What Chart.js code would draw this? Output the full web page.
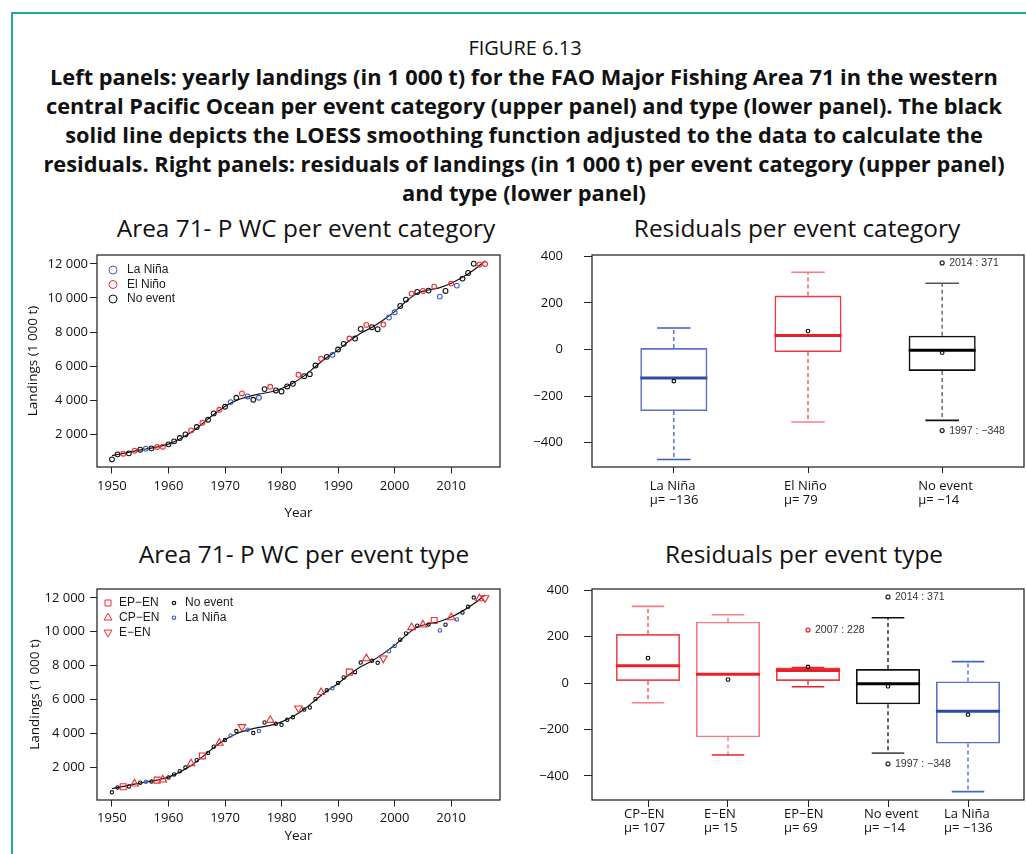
<!DOCTYPE html>
<html>
<head>
<meta charset="utf-8">
<script src="https://cdn.jsdelivr.net/npm/chart.js@4.4.1/dist/chart.umd.min.js"></script>
<style>
  html, body { margin: 0; padding: 0; background: #fff; }
  body { width: 1026px; height: 854px; position: relative; overflow: hidden; font-family: 'Open Sans', sans-serif; color: #111; }
  .frame { position: absolute; left: 11px; top: 12px; width: 1100px; height: 900px; border-left: 2px solid #1fa99d; border-top: 2px solid #1fa99d; }
  .t { position: absolute; transform: translate(-50%, -50%); white-space: nowrap; text-align: center; }
  .fig { left: 525px; top: 47px; font-size: 20px; }
  .cap { left: 524px; top: 134px; font-size: 21.8px; font-weight: 700; line-height: 29px; }
  .pt { font-size: 24.4px; }
  .panel { position: absolute; }
</style>
</head>
<body>
<div class="frame"></div>
<div class="t fig">FIGURE 6.13</div>
<div class="t cap">Left panels: yearly landings (in 1 000 t) for the FAO Major Fishing Area 71 in the western<br>central Pacific Ocean per event category (upper panel) and type (lower panel). The black<br>solid line depicts the LOESS smoothing function adjusted to the data to calculate the<br>residuals. Right panels: residuals of landings (in 1 000 t) per event category (upper panel)<br>and type (lower panel)</div>
<div class="t pt" style="left:306px;top:227px">Area 71- P WC per event category</div>
<div class="t pt" style="left:797px;top:227px">Residuals per event category</div>
<div class="t pt" style="left:304px;top:553px">Area 71- P WC per event type</div>
<div class="t pt" style="left:804px;top:553px">Residuals per event type</div>

<div class="panel" style="left:18px;top:245px"><canvas id="landCat" width="490" height="290"></canvas></div>
<div class="panel" style="left:520px;top:245px"><canvas id="resCat" width="506" height="290"></canvas></div>
<div class="panel" style="left:18px;top:579px"><canvas id="landType" width="490" height="275"></canvas></div>
<div class="panel" style="left:520px;top:579px"><canvas id="resType" width="506" height="275"></canvas></div>

<script>
// ---- landings per year (1 000 t) ----
const YEARS = [
  1950, 1951, 1952, 1953, 1954, 1955, 1956, 1957, 1958, 1959,
  1960, 1961, 1962, 1963, 1964, 1965, 1966, 1967, 1968, 1969,
  1970, 1971, 1972, 1973, 1974, 1975, 1976, 1977, 1978, 1979,
  1980, 1981, 1982, 1983, 1984, 1985, 1986, 1987, 1988, 1989,
  1990, 1991, 1992, 1993, 1994, 1995, 1996, 1997, 1998, 1999,
  2000, 2001, 2002, 2003, 2004, 2005, 2006, 2007, 2008, 2009,
  2010, 2011, 2012, 2013, 2014, 2015, 2016
];
const LANDINGS = [
  513, 806, 845, 865, 1021, 1080, 1140, 1160, 1237, 1256,
  1393, 1569, 1765, 1980, 2215, 2411, 2665, 2841, 3213, 3429,
  3605, 3879, 4133, 4387, 4211, 4016, 4133, 4642, 4779, 4564,
  4505, 4798, 4955, 5483, 5405, 5523, 6031, 6423, 6540, 6658,
  6971, 7303, 7616, 7616, 8184, 8419, 8282, 8164, 8438, 8849,
  9162, 9534, 9906, 10258, 10356, 10415, 10434, 10669, 10082, 10415,
  10845, 10728, 11139, 11472, 12020, 11961, 12000
];
// N = no event, L = La Niña, EP / CP / E = El Niño types
const EVENT_TYPE = [
  'N', 'N', 'EP', 'N', 'CP', 'N', 'L', 'N', 'EP', 'CP',
  'N', 'N', 'N', 'N', 'CP', 'N', 'EP', 'N', 'N', 'CP',
  'N', 'L', 'N', 'E', 'L', 'N', 'L', 'N', 'CP', 'N',
  'N', 'N', 'N', 'E', 'N', 'N', 'N', 'CP', 'N', 'L',
  'N', 'N', 'EP', 'N', 'N', 'CP', 'N', 'N', 'E', 'L',
  'L', 'N', 'N', 'CP', 'N', 'CP', 'N', 'EP', 'L', 'N',
  'CP', 'L', 'N', 'N', 'N', 'CP', 'E'
];
// LOESS curve, read every two years
const LOESS_YEARS = [
  1950, 1952, 1954, 1956, 1958, 1960, 1962, 1964, 1966, 1968, 1970, 1972,
  1974, 1976, 1978, 1980, 1982, 1984, 1986, 1988, 1990, 1992, 1994, 1996,
  1998, 2000, 2002, 2004, 2006, 2008, 2010, 2012, 2014, 2016
];
const LOESS_VALUES = [
  730, 865, 1000, 1120, 1240, 1410, 1710, 2100, 2610, 3150, 3620, 3980,
  4190, 4350, 4470, 4680, 4990, 5420, 5970, 6500, 6950, 7480, 7930, 8280,
  8710, 9200, 9790, 10280, 10470, 10610, 10870, 11220, 11650, 12180
];
const YEAR_TICKS = [1950, 1960, 1970, 1980, 1990, 2000, 2010];
const LAND_TICKS = [2000, 4000, 6000, 8000, 10000, 12000];

// ---- residual box plots per event category ----
const CAT_NAMES = ['La Niña', 'El Niño', 'No event'];
const CAT_MEAN  = [-136, 79, -14];
const CAT_LO    = [-472, -311, -304];
const CAT_Q1    = [-264, -11, -92];
const CAT_MED   = [-122, 60, -3];
const CAT_Q3    = [6, 231, 59];
const CAT_HI    = [92, 331, 284];
const CAT_OUT_X    = [3, 3];
const CAT_OUT_Y    = [371, -348];
const CAT_OUT_YEAR = [2014, 1997];

// ---- residual box plots per event type ----
const TYPE_NAMES = ['CP−EN', 'E−EN', 'EP−EN', 'No event', 'La Niña'];
const TYPE_MEAN  = [107, 15, 69, -14, -136];
const TYPE_LO    = [-85, -310, -16, -302, -468];
const TYPE_Q1    = [9, -234, 9, -92, -261];
const TYPE_MED   = [74, 38, 54, -3, -122];
const TYPE_Q3    = [211, 264, 67, 60, 7];
const TYPE_HI    = [330, 294, 67, 281, 92];
const TYPE_OUT_X    = [3, 4, 4];
const TYPE_OUT_Y    = [228, 371, -348];
const TYPE_OUT_YEAR = [2007, 2014, 1997];

const RES_TICKS = [-400, -200, 0, 200, 400];

// ---- styling ----
const FONT = "'Open Sans', sans-serif";
const SMALL_FONT = "'Liberation Sans', Arial, sans-serif";
const INK = '#111';
const BLUE = '#3f5cbf';
const RED = '#ef2b33';
const NONE = 'rgba(0,0,0,0)';

const EL_NINO = ['EP', 'CP', 'E'];

const fmtThousands = v => String(v).replace(/\B(?=(\d{3})+(?!\d))/g, ' ');
const fmtMinus = v => (v < 0 ? '\u2212' + Math.abs(v) : String(v));

function pointsWhere(test) {
  const out = [];
  YEARS.forEach((yr, i) => { if (test(EVENT_TYPE[i])) out.push({ x: yr, y: LANDINGS[i] }); });
  return out;
}

// fixed axis sizes so the plot boxes land where R put them
function fixHeight(h) {
  return s => { s.height = h; s.paddingLeft = 0; s.paddingRight = 0; };
}
function fixWidth(w) {
  return s => { s.width = w; s.paddingTop = 0; s.paddingBottom = 0; };
}

const frameBox = {
  id: 'frameBox',
  afterDatasetsDraw(chart) {
    const { ctx, chartArea: a } = chart;
    ctx.save();
    ctx.strokeStyle = '#2a2a2a';
    ctx.lineWidth = 1.3;
    ctx.strokeRect(a.left, a.top, a.right - a.left, a.bottom - a.top);
    ctx.restore();
  }
};

// legend drawn inside the plot, R style (no box)
const insetLegend = {
  id: 'insetLegend',
  afterDraw(chart, args, opts) {
    if (!opts.items) return;
    const { ctx, chartArea: a } = chart;
    opts.items.forEach(it => {
      const x = a.left + opts.x + (it.col || 0) * opts.colWidth;
      const y = a.top + opts.y + it.row * opts.rowHeight;
      ctx.save();
      ctx.strokeStyle = it.color;
      ctx.fillStyle = NONE;
      ctx.lineWidth = it.lineWidth;
      Chart.helpers.drawPoint(ctx, { pointStyle: it.pointStyle, rotation: it.rotation || 0, radius: it.radius, borderWidth: it.lineWidth }, x, y);
      ctx.fillStyle = '#1a1a1a';
      ctx.font = opts.font;
      ctx.textAlign = 'left';
      ctx.textBaseline = 'middle';
      ctx.fillText(it.text, x + opts.textGap, y);
      ctx.restore();
    });
  }
};

const outlierLabels = {
  id: 'outlierLabels',
  afterDatasetsDraw(chart, args, opts) {
    if (!opts.points) return;
    const { ctx } = chart;
    ctx.save();
    ctx.font = opts.font;
    ctx.fillStyle = opts.color;
    ctx.textAlign = 'left';
    ctx.textBaseline = 'middle';
    opts.points.forEach(p => {
      ctx.fillText(p.text, chart.scales.x.getPixelForValue(p.x) + opts.dx, chart.scales.y.getPixelForValue(p.y));
    });
    ctx.restore();
  }
};

function tickGrid(len) {
  return { display: true, drawOnChartArea: false, drawTicks: true, tickLength: len, color: '#222', lineWidth: 1 };
}

function landingsChart(id, datasets, legend, axis) {
  return new Chart(document.getElementById(id), {
    type: 'scatter',
    data: { datasets },
    options: {
      responsive: false,
      animation: false,
      devicePixelRatio: 1,
      events: [],
      layout: { autoPadding: false, padding: { top: 10, right: 8, left: 0, bottom: 0 } },
      plugins: {
        legend: { display: false },
        tooltip: { enabled: false },
        insetLegend: legend,
      },
      scales: {
        x: {
          type: 'linear', min: 1947.36, max: 2018.64,
          afterBuildTicks: s => { s.ticks = YEAR_TICKS.map(v => ({ value: v })); },
          afterFit: fixHeight(axis.xHeight),
          ticks: { color: INK, font: { family: FONT, size: 13 }, padding: axis.xPad, maxRotation: 0, callback: v => String(v) },
          grid: tickGrid(6.5),
          border: { display: false },
          title: { display: true, text: 'Year', color: INK, font: { family: FONT, size: 13.5 }, padding: { top: 0, bottom: axis.xTitlePad } },
        },
        y: {
          type: 'linear', min: 62, max: 12528,
          afterBuildTicks: s => { s.ticks = LAND_TICKS.map(v => ({ value: v })); },
          afterFit: fixWidth(79),
          ticks: { color: INK, font: { family: FONT, size: 13 }, padding: axis.yPad, callback: v => fmtThousands(v) },
          grid: tickGrid(7),
          border: { display: false },
          title: { display: true, text: 'Landings (1 000 t)', color: INK, font: { family: FONT, size: 13.5 }, padding: { top: axis.yTitlePad, bottom: 0 } },
        },
      },
    },
    plugins: [frameBox, insetLegend],
  });
}

const loessLine = {
  label: 'LOESS',
  type: 'line',
  data: LOESS_YEARS.map((yr, i) => ({ x: yr, y: LOESS_VALUES[i] })),
  showLine: true,
  borderColor: '#111',
  borderWidth: 1.2,
  pointRadius: 0,
  cubicInterpolationMode: 'monotone',
};

function ring(label, data, color, radius, style, rotation) {
  return {
    label, data,
    showLine: false,
    pointStyle: style || 'circle',
    rotation: rotation || 0,
    pointRadius: radius,
    pointBorderColor: color,
    pointBackgroundColor: NONE,
    pointBorderWidth: 1.1,
  };
}

// ---- upper left: landings per event category ----
landingsChart('landCat', [
  ring('El Niño', pointsWhere(t => EL_NINO.includes(t)), RED, 2.4),
  ring('La Niña', pointsWhere(t => t === 'L'), BLUE, 2.4),
  ring('No event', pointsWhere(t => t === 'N'), INK, 2.4),
  loessLine,
], {
  x: 16, y: 15, rowHeight: 14.5, colWidth: 0, textGap: 14, font: `12px ${SMALL_FONT}`,
  items: [
    { row: 0, text: CAT_NAMES[0], color: BLUE, pointStyle: 'circle', radius: 4, lineWidth: 1 },
    { row: 1, text: CAT_NAMES[1], color: RED, pointStyle: 'circle', radius: 4, lineWidth: 1 },
    { row: 2, text: CAT_NAMES[2], color: INK, pointStyle: 'circle', radius: 4, lineWidth: 1 },
  ],
}, { xHeight: 68, xPad: 5, xTitlePad: 14, yPad: 2, yTitlePad: 7 });

// ---- lower left: landings per event type ----
landingsChart('landType', [
  ring('EP−EN', pointsWhere(t => t === 'EP'), RED, 4.2, 'rect'),
  ring('CP−EN', pointsWhere(t => t === 'CP'), RED, 4.4, 'triangle'),
  ring('E−EN', pointsWhere(t => t === 'E'), RED, 4.4, 'triangle', 180),
  ring('La Niña', pointsWhere(t => t === 'L'), BLUE, 1.7),
  ring('No event', pointsWhere(t => t === 'N'), INK, 1.7),
  loessLine,
], {
  x: 11, y: 14, rowHeight: 14.7, colWidth: 66, textGap: 11, font: `12px ${SMALL_FONT}`,
  items: [
    { row: 0, text: TYPE_NAMES[2], color: RED, pointStyle: 'rect', radius: 4.2, lineWidth: 1 },
    { row: 1, text: TYPE_NAMES[0], color: RED, pointStyle: 'triangle', radius: 4.6, lineWidth: 1 },
    { row: 2, text: TYPE_NAMES[1], color: RED, pointStyle: 'triangle', rotation: 180, radius: 4.6, lineWidth: 1 },
    { row: 0, col: 1, text: TYPE_NAMES[3], color: INK, pointStyle: 'circle', radius: 1.7, lineWidth: 1.2 },
    { row: 1, col: 1, text: TYPE_NAMES[4], color: BLUE, pointStyle: 'circle', radius: 1.7, lineWidth: 1.2 },
  ],
}, { xHeight: 54, xPad: 4, xTitlePad: 9.5, yPad: 5, yTitlePad: 9 });

// ---- box plots ----
function boxChart(id, b, look) {
  const idx = b.names.map((_, i) => i + 1);
  const datasets = [];

  datasets.push({
    label: 'mean', type: 'scatter', data: idx.map((x, i) => ({ x, y: b.mean[i] })),
    pointRadius: 1.8, pointBorderColor: '#111', pointBackgroundColor: NONE, pointBorderWidth: 1.2,
  });
  datasets.push({
    label: 'median', type: 'scatter', data: idx.map((x, i) => ({ x, y: b.med[i] })),
    pointStyle: 'line', pointRadius: look.boxHalf, pointBorderWidth: 3, pointBorderColor: look.medColor,
  });
  datasets.push({
    label: 'outliers', type: 'scatter', data: b.outX.map((x, i) => ({ x, y: b.outY[i] })),
    pointRadius: 2, pointBorderColor: look.outColor, pointBackgroundColor: NONE, pointBorderWidth: 1.2,
  });
  const caps = [];
  idx.forEach((x, i) => { caps.push({ x, y: b.hi[i] }); caps.push({ x, y: b.lo[i] }); });
  datasets.push({
    label: 'caps', type: 'scatter', data: caps,
    pointStyle: 'line', pointRadius: look.capHalf, pointBorderWidth: 1.6, pointBorderColor: look.capColor,
  });
  idx.forEach((x, i) => {
    datasets.push({
      label: 'whisker', type: 'scatter', showLine: true, spanGaps: false,
      data: [{ x, y: b.q3[i] }, { x, y: b.hi[i] }, { x, y: null }, { x, y: b.q1[i] }, { x, y: b.lo[i] }],
      borderColor: look.whiskColor[i], borderWidth: 1.3, borderDash: [4, 3], pointRadius: 0,
    });
  });
  datasets.push({
    label: 'box', type: 'bar', data: idx.map((x, i) => ({ x, y: [b.q1[i], b.q3[i]] })),
    backgroundColor: NONE, borderColor: look.boxColor, borderWidth: 1.6, borderSkipped: false,
    barPercentage: look.barPct, categoryPercentage: 1,
  });

  return new Chart(document.getElementById(id), {
    type: 'scatter',
    data: { datasets },
    options: {
      responsive: false,
      animation: false,
      devicePixelRatio: 1,
      events: [],
      layout: { autoPadding: false, padding: { top: 10, right: 2, left: 0, bottom: 0 } },
      plugins: {
        legend: { display: false },
        tooltip: { enabled: false },
        outlierLabels: {
          font: `10.5px ${SMALL_FONT}`, color: '#333', dx: 7,
          points: b.outX.map((x, i) => ({ x, y: b.outY[i], text: b.outYear[i] + ' : ' + fmtMinus(b.outY[i]) })),
        },
      },
      scales: {
        x: {
          type: 'linear', min: look.xMin, max: look.xMax, offset: false,
          afterBuildTicks: s => { s.ticks = idx.map(v => ({ value: v })); },
          afterFit: fixHeight(look.xHeight),
          ticks: {
            color: INK, font: { family: FONT, size: 13, lineHeight: 1.08 }, padding: look.xPad,
            align: 'start', labelOffset: -24, maxRotation: 0,
            callback: v => [b.names[v - 1], 'μ= ' + fmtMinus(b.mean[v - 1])],
          },
          grid: { ...tickGrid(look.tickLen), offset: false },
          border: { display: false },
        },
        y: {
          type: 'linear', min: -504, max: 405,
          afterBuildTicks: s => { s.ticks = RES_TICKS.map(v => ({ value: v })); },
          afterFit: fixWidth(72),
          ticks: { color: INK, font: { family: FONT, size: 13 }, padding: look.yPad, callback: v => fmtMinus(v) },
          grid: tickGrid(8),
          border: { display: false },
        },
      },
    },
    plugins: [frameBox, outlierLabels],
  });
}

boxChart('resCat', {
  names: CAT_NAMES, mean: CAT_MEAN, lo: CAT_LO, q1: CAT_Q1, med: CAT_MED, q3: CAT_Q3, hi: CAT_HI,
  outX: CAT_OUT_X, outY: CAT_OUT_Y, outYear: CAT_OUT_YEAR,
}, {
  xMin: 0.39, xMax: 3.61, barPct: 0.5, boxHalf: 33.5, capHalf: 16.8,
  xHeight: 68, xPad: 6.5, tickLen: 6, yPad: 21,
  boxColor: ['#5a72c2', '#ef3a40', '#111'],
  medColor: ['#2e4b9e', '#e8202a', '#000'],
  whiskColor: ['#3f5cbf', '#f0454b', '#555'],
  capColor: ['#3f5cbf', '#3f5cbf', '#f37f83', '#f37f83', '#555', '#111'],
  outColor: ['#222', '#222'],
});

boxChart('resType', {
  names: TYPE_NAMES, mean: TYPE_MEAN, lo: TYPE_LO, q1: TYPE_Q1, med: TYPE_MED, q3: TYPE_Q3, hi: TYPE_HI,
  outX: TYPE_OUT_X, outY: TYPE_OUT_Y, outYear: TYPE_OUT_YEAR,
}, {
  xMin: 0.3, xMax: 5.7, barPct: 0.8, boxHalf: 32.1, capHalf: 16.3,
  xHeight: 54, xPad: 0, tickLen: 7, yPad: 15,
  boxColor: ['#ef4a50', '#f37a7e', '#ef3a40', '#111', '#5a72c2'],
  medColor: ['#e8202a', '#e8202a', '#e8202a', '#000', '#2e4b9e'],
  whiskColor: ['#f0454b', '#f3777b', '#e8202a', '#111', '#4a66c4'],
  capColor: ['#f37f83', '#f37f83', '#f37f83', '#e8202a', '#e8202a', '#e8202a', '#111', '#555', '#4a66c4', '#4a66c4'],
  outColor: ['#e8202a', '#222', '#222'],
});
</script>
</body>
</html>
